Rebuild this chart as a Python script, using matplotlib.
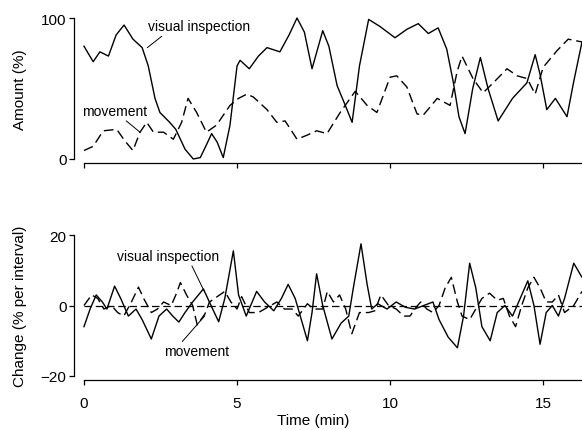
import matplotlib
matplotlib.use("Agg")
import matplotlib.pyplot as plt

plt.rcParams['font.family'] = ['Liberation Sans', 'DejaVu Sans']

# top panel: amount (%)
t_vis = [0.0, 0.3, 0.52, 0.8, 1.05, 1.31, 1.6, 1.9, 2.1, 2.32, 2.48, 2.8, 3.0, 3.3, 3.57,
         3.8, 4.0, 4.17, 4.35, 4.55, 4.77, 5.0, 5.1, 5.4, 5.7, 5.98, 6.4, 6.7, 6.96, 7.2,
         7.45, 7.8, 8.0, 8.27, 8.5, 8.76, 9.0, 9.3, 9.67, 10.16, 10.55, 10.92, 11.25, 11.57,
         11.85, 12.07, 12.25, 12.45, 12.7, 12.95, 13.2, 13.53, 14.0, 14.47, 14.74, 14.9,
         15.12, 15.4, 15.78, 16.0, 16.27]
vis = [80, 69, 76, 73, 88, 95, 85, 79, 66, 43, 33, 26, 21, 7, 0,
       1, 10, 18, 12, 1, 24, 66, 70, 64, 73, 79, 76, 88, 100, 90,
       64, 91, 80, 52, 40, 26, 66, 99, 94, 86, 92, 96, 89, 93,
       78, 54, 30, 18, 50, 72, 50, 27, 43, 54, 74, 60,
       35, 43, 30, 55, 83]

t_mov = [0.0, 0.3, 0.63, 1.07, 1.33, 1.6, 1.83, 2.05, 2.27, 2.6, 2.92, 3.19, 3.4, 3.68,
         4.0, 4.33, 4.77, 5.05, 5.32, 5.53, 5.98, 6.3, 6.57, 6.96, 7.3, 7.6, 7.94, 8.37,
         8.86, 9.25, 9.57, 10.0, 10.22, 10.55, 10.88, 11.08, 11.54, 11.96, 12.19, 12.35,
         12.71, 13.04, 13.37, 13.82, 14.15, 14.48, 14.74, 15.0, 15.46, 15.82, 16.27]
mov = [6, 9, 20, 21, 13, 6, 19, 26, 19, 19, 14, 26, 43, 33,
       19, 24, 38, 43, 46, 44, 35, 26, 27, 14, 17, 20, 18, 33,
       48, 38, 33, 58, 59, 51, 32, 31, 43, 38, 62, 73,
       57, 47, 54, 64, 59, 57, 46, 65, 77, 85, 83]

# bottom panel: change (% per interval)
t_dvis = [0, 0.2, 0.4, 0.6, 0.75, 1.0, 1.2, 1.45, 1.7, 1.9, 2.2, 2.45, 2.7, 2.9, 3.1, 3.3,
          3.55, 3.9, 4.15, 4.4, 4.6, 4.88, 5.05, 5.3, 5.64, 5.9, 6.2, 6.45, 6.67, 6.9, 7.1,
          7.3, 7.45, 7.6, 7.8, 8.1, 8.4, 8.65, 8.8, 9.05, 9.25, 9.4, 9.6, 9.9, 10.2, 10.5,
          10.8, 11.1, 11.4, 11.6, 11.9, 12.2, 12.4, 12.6, 12.8, 13.0, 13.27, 13.5, 13.75,
          14.0, 14.2, 14.5, 14.7, 14.9, 15.1, 15.3, 15.5, 15.7, 16.0, 16.27]
dvis = [-6, -1, 3, 1, -1, 5.5, 2, -3, -1, -4, -9.5, -3, -1, -3, -4.7, -2,
        1, 4.7, 0, -4.6, 2, 15.5, 3, -3, 4, 1, -1.5, 2, 6, 2, -4,
        -10, -2, 9, 0, -9.5, -5, -3, 5, 17.5, 6, -1, 0.5, -1, 1, -0.5,
        -1, 0, 1, -4, -9, -12, -3, 12, 5, -6, -10, -2, 0,
        -3, 1, 7, 0, -11, -2, 0, -3, 2, 12, 8]

t_dmov = [0, 0.25, 0.45, 0.65, 0.9, 1.1, 1.3, 1.55, 1.78, 1.95, 2.2, 2.4, 2.6, 2.85, 3.0,
          3.15, 3.35, 3.55, 3.7, 3.95, 4.1, 4.35, 4.6, 4.8, 5.0, 5.15, 5.4, 5.7, 6.0, 6.3,
          6.55, 6.8, 7.0, 7.3, 7.5, 7.8, 7.95, 8.15, 8.35, 8.55, 8.75, 9.0, 9.3, 9.5, 9.7,
          9.95, 10.2, 10.45, 10.65, 10.85, 11.0, 11.2, 11.4, 11.6, 11.8, 12.0, 12.2, 12.35,
          12.6, 12.8, 13.0, 13.25, 13.5, 13.7, 13.9, 14.1, 14.3, 14.5, 14.7, 14.9, 15.1,
          15.3, 15.5, 15.7, 16.0, 16.27]
dmov = [0, 3, 2, -1, 0, -2, -3, 1, 5.2, 2, -2, -1, 1, 0, 3,
        6.5, 3, 0, -5.5, -2.4, 1, 2.5, 4, 1, -1, 2.5, -2, -2, -0.5, 1,
        -1, -1, -3, 0.5, -1, -1, 4, 1, 3, -1, -8, -2, -2, -1.5, 3,
        0, -1, -3, -3, -0.5, 1, -1, -2, 0, 5, 8, 1, -3,
        -4, -1, 2, 3.5, 1.5, 2, -3, -6, 0, 5, 8, 5, 1,
        1, 3, -2, 0, 4]

xticks = [0, 5, 10, 15]

fig = plt.figure(figsize=(5.82, 4.31), dpi=100)
ax1 = fig.add_axes([0.1443, 0.6288, 0.8557, 0.3271])
ax2 = fig.add_axes([0.1443, 0.1253, 0.8557, 0.3271])

for ax in (ax1, ax2):
    for s in ('top', 'right'):
        ax.spines[s].set_visible(False)
    ax.spines['left'].set_position(('outward', 7))
    ax.spines['bottom'].set_position(('outward', 3))
    ax.spines['left'].set_linewidth(0.9)
    ax.spines['bottom'].set_linewidth(0.9)
    ax.set_xlim(0, 16.27)
    ax.set_xticks(xticks)
    ax.tick_params(direction='out', length=3.5, width=0.9, labelsize=11, pad=2)

ax1.plot(t_vis, vis, color='k', lw=1.0, clip_on=False, solid_joinstyle='round')
ax1.plot(t_mov, mov, color='k', lw=1.0, dashes=(7, 3.5), clip_on=False)
ax1.set_ylim(0, 100)
ax1.set_yticks([0, 100])
ax1.set_xticklabels([])
ax1.set_ylabel('Amount (%)', fontsize=11)
ax1.yaxis.set_label_coords(-0.115, 0.5)
ax1.annotate('visual inspection', xy=(2.07, 79), xytext=(2.09, 94), fontsize=10,
             ha='left', va='center',
             arrowprops=dict(arrowstyle='-', lw=0.7, color='k', shrinkA=0, shrinkB=0,
                             relpos=(0.17, 0.0)))
ax1.annotate('movement', xy=(1.83, 19), xytext=(-0.05, 34), fontsize=10,
             ha='left', va='center',
             arrowprops=dict(arrowstyle='-', lw=0.7, color='k', shrinkA=0, shrinkB=0,
                             relpos=(0.62, 0.0)))

ax2.axhline(0, color='k', lw=0.9, dashes=(6, 3))
ax2.plot(t_dvis, dvis, color='k', lw=1.0, clip_on=False, solid_joinstyle='round')
ax2.plot(t_dmov, dmov, color='k', lw=1.0, dashes=(7, 3.5), clip_on=False)
ax2.set_ylim(-20, 20)
ax2.set_yticks([-20, 0, 20])
ax2.tick_params(axis='x', pad=8)
ax2.set_ylabel('Change (% per interval)', fontsize=11)
ax2.yaxis.set_label_coords(-0.115, 0.5)
ax2.set_xlabel('Time (min)', fontsize=11)
ax2.xaxis.set_label_coords(0.46, -0.26)
ax2.annotate('visual inspection', xy=(3.92, 4.2), xytext=(1.08, 14.0), fontsize=10,
             ha='left', va='center',
             arrowprops=dict(arrowstyle='-', lw=0.7, color='k', shrinkA=0, shrinkB=0,
                             relpos=(0.72, 0.0)))
ax2.annotate('movement', xy=(3.95, -2.9), xytext=(2.6, -13.0), fontsize=10,
             ha='left', va='center',
             arrowprops=dict(arrowstyle='-', lw=0.7, color='k', shrinkA=0, shrinkB=0,
                             relpos=(0.25, 1.0)))

fig.savefig('out.png', dpi=100)
